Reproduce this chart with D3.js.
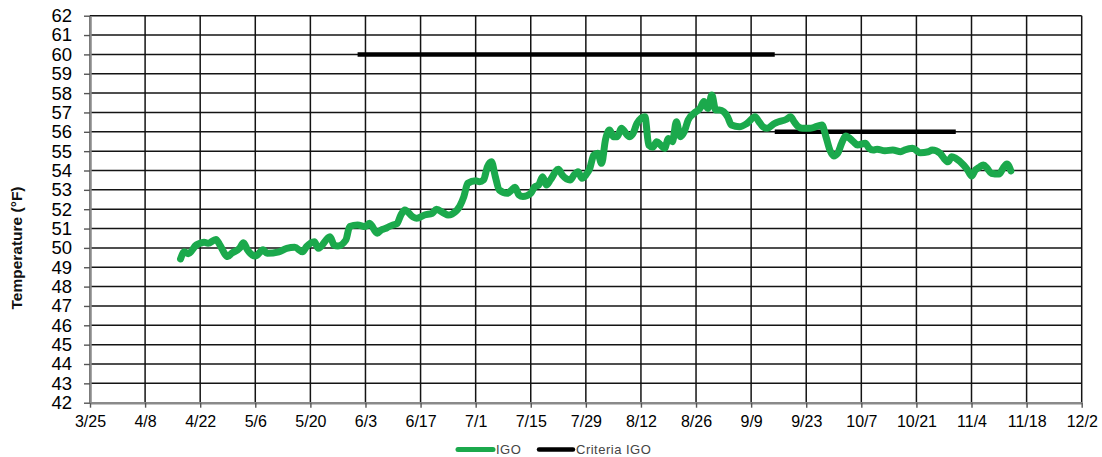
<!DOCTYPE html>
<html>
<head>
<meta charset="utf-8">
<script src="https://cdn.jsdelivr.net/npm/d3@7"></script>
<style>
  html, body { margin: 0; padding: 0; background: #fff; }
  svg { display: block; font-family: "Liberation Sans", Arial, sans-serif; }
</style>
</head>
<body>
<svg id="chart" width="1102" height="457"></svg>
<script>
// ---------- data ----------
const xTickLabels = ["3/25","4/8","4/22","5/6","5/20","6/3","6/17","7/1","7/15","7/29","8/12","8/26","9/9","9/23","10/7","10/21","11/4","11/18","12/2"];
const yTickValues = [42,43,44,45,46,47,48,49,50,51,52,53,54,55,56,57,58,59,60,61,62];

const igoDates = ["4/17","4/18","4/19","4/21","4/22","4/23","4/24","4/26","4/27","4/29","4/30",
  "5/2","5/3","5/4","5/6","5/8","5/9","5/12","5/14","5/16","5/18","5/19","5/21","5/22","5/25","5/26","5/27","5/29","5/30",
  "6/1","6/3","6/4","6/6","6/7","6/8","6/9","6/10","6/11","6/12","6/13","6/15","6/16","6/18","6/20","6/21","6/23","6/24","6/25","6/27","6/28","6/29",
  "7/1","7/2","7/3","7/4","7/5","7/6","7/7","7/9","7/10","7/11","7/12","7/13","7/15","7/16","7/17","7/18","7/19","7/20","7/22","7/23","7/25","7/26","7/27","7/28","7/29","7/30","7/31",
  "8/1","8/2","8/3","8/4","8/5","8/6","8/7","8/9","8/10","8/11","8/13","8/14","8/15","8/16","8/17","8/18","8/19","8/20","8/21","8/22","8/23","8/24","8/26","8/27","8/28","8/29","8/30","8/31",
  "9/1","9/2","9/3","9/4","9/6","9/8","9/10","9/11","9/12","9/13","9/15","9/16","9/18","9/19","9/20","9/21","9/22","9/24","9/25","9/27","9/28","9/29","9/30",
  "10/1","10/2","10/3","10/5","10/6","10/8","10/9","10/10","10/11","10/13","10/15","10/17","10/18","10/20","10/22","10/24","10/25","10/27","10/28","10/29","10/30","10/31",
  "11/2","11/3","11/4","11/5","11/6","11/7","11/8","11/9","11/11","11/12","11/13","11/14"];
const igoValues = [49.43,49.8,49.7,50.15,50.24,50.29,50.24,50.44,50.15,49.55,49.72,
  49.98,50.27,49.9,49.58,49.9,49.72,49.8,49.98,50.03,49.8,50.06,50.32,49.98,50.58,50.15,50.1,50.4,51.1,
  51.18,51.1,51.27,50.76,50.93,51.0,51.1,51.18,51.25,51.7,51.96,51.61,51.53,51.7,51.79,52.0,51.79,51.7,51.75,52.17,52.65,53.34,
  53.47,53.42,53.51,54.2,54.45,53.68,52.99,52.82,52.96,53.13,52.73,52.65,52.82,53.16,53.25,53.68,53.25,53.51,54.06,53.77,53.51,53.77,53.94,53.6,53.77,54.11,54.8,
  54.89,54.37,55.6,56.09,55.75,55.75,56.18,55.75,55.92,56.44,56.78,55.3,55.2,55.49,55.32,55.15,55.66,55.49,56.52,55.75,56.0,56.61,57.04,57.21,57.56,57.21,57.9,57.13,
  57.13,57.04,56.78,56.35,56.26,56.44,56.78,56.52,56.26,56.18,56.44,56.52,56.65,56.78,56.5,56.26,56.18,56.18,56.23,56.35,55.75,55.06,54.75,
  54.89,55.41,55.78,55.49,55.32,55.41,55.15,55.06,55.1,55.02,55.06,54.97,55.06,55.15,54.92,54.97,55.06,54.89,54.63,54.45,54.71,54.63,
  54.28,54.03,53.71,54.03,54.17,54.28,54.11,53.86,53.82,54.11,54.34,53.98];

const criteriaStart = ["6/1","9/15"];
const criteriaEnd   = ["9/15","10/31"];
const criteriaValue = [60, 56];

const seriesNames = ["IGO", "Criteria IGO"];
const seriesColors = ["#1ba94c", "#000000"];

// ---------- helpers ----------
const YEAR = 2011;
const parseMD = s => { const [m, d] = s.split("/").map(Number); return new Date(YEAR, m - 1, d); };

// ---------- layout ----------
const svg = d3.select("#chart");
const plotL = 90, plotR = 1081.7, plotT = 15.7, plotB = 402.7;

const x = d3.scaleTime().domain([parseMD("3/25"), parseMD("12/2")]).range([plotL, plotR]);
const y = d3.scaleLinear().domain([42, 62]).range([plotB, plotT]);

svg.append("rect").attr("width", 1102).attr("height", 457).attr("fill", "#fff");

// grid
const grid = svg.append("g");
grid.selectAll("line.h").data(yTickValues).join("line").attr("class", "h")
  .attr("x1", plotL).attr("x2", plotR)
  .attr("y1", d => y(d)).attr("y2", d => y(d))
  .attr("stroke", "#141414").attr("stroke-width", 1.5);
grid.selectAll("line.v").data(xTickLabels.map(parseMD)).join("line").attr("class", "v")
  .attr("x1", d => x(d)).attr("x2", d => x(d))
  .attr("y1", plotT).attr("y2", plotB)
  .attr("stroke", "#141414").attr("stroke-width", 1.5);

// axes
const xAxis = d3.axisBottom(x)
  .tickValues(xTickLabels.map(parseMD))
  .tickFormat((d, i) => xTickLabels[i])
  .tickSize(5).tickSizeOuter(0);
const gx = svg.append("g").attr("transform", `translate(0,${plotB})`).call(xAxis);
gx.select(".domain").attr("stroke", "#8a8a8a").attr("stroke-width", 2.5);
gx.selectAll(".tick line").attr("stroke", "#555").attr("stroke-width", 1.4);
gx.selectAll(".tick text").attr("font-size", 16).attr("fill", "#000")
  .attr("font-family", "Liberation Sans, Arial, sans-serif").attr("y", 13).attr("dy", "0.71em");

const yAxis = d3.axisLeft(y).tickValues(yTickValues).tickFormat(d3.format("d"))
  .tickSize(6).tickSizeOuter(0).tickPadding(12);
const gy = svg.append("g").attr("transform", `translate(${plotL},0)`).call(yAxis);
gy.select(".domain").attr("stroke", "#8a8a8a").attr("stroke-width", 2.5);
gy.selectAll(".tick line").attr("stroke", "#555").attr("stroke-width", 1.4);
gy.selectAll(".tick text").attr("font-size", 18.5).attr("fill", "#000")
  .attr("font-family", "Liberation Sans, Arial, sans-serif");

// y title
svg.append("text")
  .attr("transform", `translate(22,248) rotate(-90)`)
  .attr("text-anchor", "middle")
  .attr("font-size", 15.5).attr("font-weight", "bold").attr("fill", "#111")
  .text("Temperature (°F)");

// criteria lines
const crit = criteriaValue.map((v, i) => ({ s: parseMD(criteriaStart[i]), e: parseMD(criteriaEnd[i]), v }));
svg.append("g").selectAll("line").data(crit).join("line")
  .attr("x1", d => x(d.s)).attr("x2", d => x(d.e))
  .attr("y1", d => y(d.v)).attr("y2", d => y(d.v))
  .attr("stroke", seriesColors[1]).attr("stroke-width", 4.5);

// IGO line
const igo = igoDates.map((d, i) => ({ date: parseMD(d), value: igoValues[i] }));
svg.append("path").datum(igo)
  .attr("fill", "none")
  .attr("stroke", seriesColors[0]).attr("stroke-width", 7)
  .attr("stroke-linejoin", "round").attr("stroke-linecap", "round")
  .attr("d", d3.line().x(d => x(d.date)).y(d => y(d.value)).curve(d3.curveMonotoneX));

// legend
const legend = svg.append("g").attr("transform", "translate(0,449.5)");
const legendItems = [
  { name: seriesNames[0], color: seriesColors[0], x0: 458, x1: 493, w: 5 },
  { name: seriesNames[1], color: seriesColors[1], x0: 539, x1: 573, w: 4.5 }
];
legendItems.forEach(it => {
  legend.append("line").attr("x1", it.x0).attr("x2", it.x1).attr("y1", 0).attr("y2", 0)
    .attr("stroke", it.color).attr("stroke-width", it.w).attr("stroke-linecap", "round");
  legend.append("text").attr("x", it.x1 + 3).attr("y", 0).attr("dy", "0.35em")
    .attr("font-size", 13).attr("letter-spacing", 0.5).attr("fill", "#444")
    .text(it.name);
});
</script>
</body>
</html>
